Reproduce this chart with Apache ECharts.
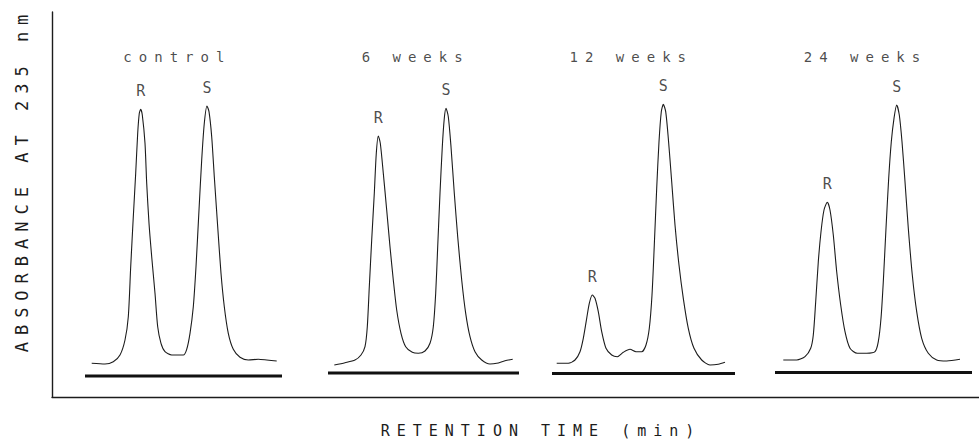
<!DOCTYPE html>
<html>
<head>
<meta charset="utf-8">
<script src="https://cdn.jsdelivr.net/npm/echarts@6/dist/echarts.min.js"></script>
<style>
  html, body { margin: 0; padding: 0; background: #ffffff; }
  #chart { width: 979px; height: 440px; }
  #chart text { letter-spacing: 7px; }
</style>
</head>
<body>
<div id="chart"></div>
<script>
// ---- data (retention time in arbitrary min units, absorbance in arbitrary units) ----
const panelNames = ['control', '6 weeks', '12 weeks', '24 weeks'];

const traceControl = [[3.97,3.37],[5.30,3.30],[6.13,3.53],[6.80,4.20],[7.30,5.70],[7.63,8.03],[7.87,13.03],[8.13,18.03],[8.37,22.37],[8.57,26.37],[8.73,28.37],[8.87,28.77],[9.03,28.20],[9.30,25.37],[9.47,21.37],[9.70,17.37],[9.97,14.03],[10.30,10.37],[10.57,7.03],[10.90,5.37],[11.30,4.53],[11.97,4.20],[13.13,4.20],[13.47,4.77],[13.80,6.37],[14.13,9.03],[14.40,13.03],[14.70,18.70],[14.97,23.70],[15.23,27.37],[15.50,29.10],[15.70,28.53],[15.97,26.03],[16.23,22.03],[16.57,17.03],[16.90,12.37],[17.23,9.03],[17.63,6.37],[18.13,4.77],[18.80,3.97],[19.63,3.70],[20.63,3.77],[21.47,3.70],[22.47,3.60]];

const trace6w = [[28.23,3.20],[29.30,3.43],[30.30,3.70],[30.90,4.20],[31.30,5.03],[31.53,7.03],[31.73,11.03],[31.97,15.70],[32.23,20.37],[32.43,24.37],[32.63,26.10],[32.83,25.37],[33.13,22.37],[33.47,18.70],[33.80,15.03],[34.13,11.70],[34.47,8.70],[34.90,6.37],[35.37,5.03],[36.03,4.47],[36.63,4.37],[37.30,4.60],[37.80,5.37],[38.13,7.03],[38.37,10.37],[38.57,15.03],[38.80,20.37],[39.03,25.03],[39.23,27.87],[39.40,28.87],[39.63,28.03],[39.90,25.03],[40.23,20.37],[40.57,16.03],[40.97,11.70],[41.37,8.37],[41.80,6.03],[42.30,4.53],[42.97,3.70],[43.80,3.30],[44.47,3.37],[45.30,3.63],[46.07,3.77]];

const trace12w = [[50.47,3.37],[51.63,3.37],[52.30,3.70],[52.80,4.53],[53.13,5.87],[53.47,7.87],[53.73,9.37],[54.03,10.20],[54.30,9.87],[54.63,8.53],[54.97,6.53],[55.40,4.87],[55.97,4.20],[56.53,4.03],[57.13,4.47],[57.80,4.77],[58.40,4.53],[58.97,4.53],[59.40,5.20],[59.73,6.87],[60.00,10.20],[60.23,15.20],[60.47,20.87],[60.70,25.53],[60.93,28.53],[61.13,29.27],[61.37,28.53],[61.63,25.87],[61.97,21.53],[62.30,17.20],[62.70,13.20],[63.13,9.87],[63.63,6.87],[64.20,4.87],[64.97,3.70],[65.80,3.20],[66.63,3.27],[67.30,3.47]];

const trace24w = [[73.13,3.70],[74.47,3.70],[75.30,4.03],[75.87,4.87],[76.13,6.20],[76.37,9.53],[76.63,13.53],[76.90,16.53],[77.20,18.70],[77.53,19.47],[77.80,18.70],[78.13,16.20],[78.47,12.53],[78.87,9.20],[79.30,6.53],[79.80,4.87],[80.53,4.37],[81.47,4.37],[82.30,4.53],[82.63,5.53],[82.90,7.87],[83.13,11.53],[83.40,16.87],[83.67,21.87],[83.93,25.53],[84.20,27.87],[84.47,29.20],[84.73,28.20],[85.00,25.53],[85.30,21.53],[85.63,16.87],[86.03,12.20],[86.47,8.53],[86.97,5.87],[87.63,4.37],[88.47,3.70],[89.47,3.60],[90.80,3.77]];

const traces = [traceControl, trace6w, trace12w, trace24w];

// retention times of the labelled peaks
const peakR = [8.87, 32.63, 54.03, 77.53];
const peakS = [15.50, 39.40, 61.13, 84.47];

// recorder zero line under each chromatogram: start, end, level
const baseStart = [3.3, 27.6, 50.0, 72.3];
const baseEnd   = [23.0, 46.7, 68.3, 92.0];
const baseLevel = [2.1, 2.4, 2.35, 2.45];

const yTitle = 'ABSORBANCE AT 235 nm';
const xTitle = 'RETENTION TIME (min)';

// ---- build option ----
const FONT = '"DejaVu Sans Mono", "Liberation Mono", monospace';
const INK = '#1c1c1c';
const TITLE_LEVEL = 34.0;

function heightAt(trace, t) {
  for (const p of trace) if (p[0] === t) return p[1];
  return null;
}

const series = [];
traces.forEach((tr, i) => {
  series.push({
    name: panelNames[i], type: 'line', data: tr, showSymbol: false, smooth: 0.25,
    lineStyle: { color: INK, width: 1.1 }, silent: true, z: 3
  });
  series.push({
    name: panelNames[i] + ' baseline', type: 'line',
    data: [[baseStart[i], baseLevel[i]], [baseEnd[i], baseLevel[i]]],
    showSymbol: false, lineStyle: { color: '#111', width: 3.2 }, silent: true, z: 3
  });
});

const peakLabelData = [];
traces.forEach((tr, i) => {
  peakLabelData.push({ value: [peakR[i], heightAt(tr, peakR[i])], name: 'R' });
  peakLabelData.push({ value: [peakS[i], heightAt(tr, peakS[i])], name: 'S' });
});
series.push({
  type: 'scatter', data: peakLabelData, symbolSize: 2, itemStyle: { color: 'rgba(0,0,0,0)' }, silent: true,
  label: { show: true, position: 'top', distance: 10, formatter: p => p.name,
    fontFamily: FONT, fontSize: 15, color: INK, offset: [3.5, 0] }, z: 5
});

const titleData = panelNames.map((n, i) => ({ value: [(peakR[i] + peakS[i]) / 2, TITLE_LEVEL], name: n }));
series.push({
  type: 'scatter', data: titleData, symbolSize: 2, itemStyle: { color: 'rgba(0,0,0,0)' }, silent: true,
  label: { show: true, position: 'inside', formatter: p => p.name,
    fontFamily: FONT, fontSize: 14, color: INK, offset: [3.5, 0] }, z: 5
});

const option = {
  backgroundColor: '#ffffff',
  animation: false,
  grid: { left: 52, right: 0, top: 12, bottom: 43, containLabel: false, outerBoundsMode: 'none' },
  xAxis: {
    type: 'value', min: 0, max: 92.7,
    axisLine: { show: true, lineStyle: { color: INK, width: 1.4 } },
    axisTick: { show: false }, axisLabel: { show: false }, splitLine: { show: false }
  },
  yAxis: {
    type: 'value', min: 0, max: 38.5,
    axisLine: { show: true, lineStyle: { color: INK, width: 1.4 } },
    axisTick: { show: false }, axisLabel: { show: false }, splitLine: { show: false }
  },
  graphic: [
    { type: 'text', x: 21.5, y: 180, rotation: Math.PI / 2, silent: true,
      style: { text: yTitle, fontFamily: FONT, fontSize: 17, fill: INK,
        align: 'center', verticalAlign: 'middle', textAlign: 'center', textVerticalAlign: 'middle' } },
    { type: 'text', x: 541, y: 431, silent: true,
      style: { text: xTitle, fontFamily: FONT, fontSize: 15, fill: INK,
        align: 'center', verticalAlign: 'middle', textAlign: 'center', textVerticalAlign: 'middle' } }
  ],
  series: series
};

const chart = echarts.init(document.getElementById('chart'), null, { renderer: 'svg', width: 979, height: 440 });
chart.setOption(option);
</script>
</body>
</html>
